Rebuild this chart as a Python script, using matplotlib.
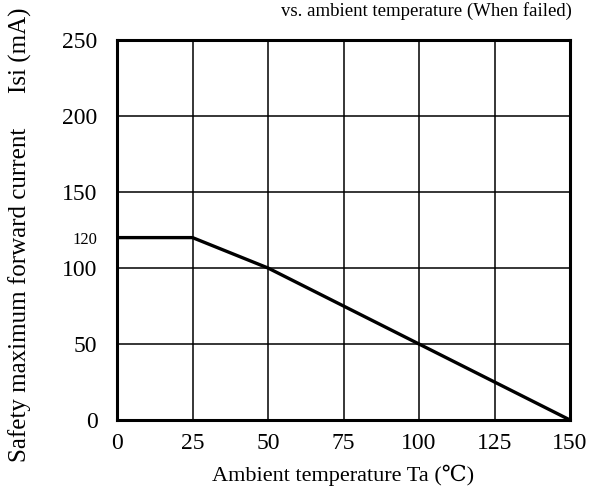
import matplotlib
matplotlib.use("Agg")
import matplotlib.pyplot as plt

temp = [0, 25, 50, 150]
current = [120, 120, 100, 0]
x_ticks = [0, 25, 50, 75, 100, 125, 150]
y_ticks = [0, 50, 100, 150, 200, 250]
extra_y_tick = 120

plt.rcParams['font.family'] = ['Liberation Serif', 'DejaVu Serif']

fig = plt.figure(figsize=(5.98, 4.98), dpi=100)
ax = fig.add_axes([117/598, 1 - 420/498, (570-117)/598, (420-40)/498])

ax.set_xlim(0, 150)
ax.set_ylim(0, 250)
for x in x_ticks[1:-1]:
    ax.axvline(x, color='black', lw=1.1, zorder=1)
for y in y_ticks[1:-1]:
    ax.axhline(y, color='black', lw=1.1, zorder=1)

ax.plot(temp, current, color='black', lw=2.4, solid_capstyle='butt', zorder=3)

for s in ax.spines.values():
    s.set_linewidth(2.2)

ax.set_xticks(x_ticks)
ax.set_xticklabels([str(v) for v in x_ticks], fontsize=17)
ax.set_yticks(y_ticks + [extra_y_tick])
ax.set_yticklabels([str(v) for v in y_ticks] + [str(extra_y_tick)], fontsize=17)
for lab in ax.get_yticklabels():
    if lab.get_text() == str(extra_y_tick):
        lab.set_fontsize(12)
ax.tick_params(axis='y', length=0, pad=14)
ax.tick_params(axis='x', length=0, pad=9)

ax.set_xlabel('Ambient temperature Ta (\u2103)', fontsize=16, labelpad=8)
fig.text(20/598, 1 - 295/498, 'Safety maximum forward current', rotation=90,
         fontsize=18, ha='center', va='center')
fig.text(20/598, 1 - 50/498, 'Isi (mA)', rotation=90,
         fontsize=18, ha='center', va='center')
fig.text(572/598, 1 - 16/498, 'vs. ambient temperature (When failed)', fontsize=13.5,
         ha='right', va='baseline')

fig.savefig('out.png', dpi=100)
